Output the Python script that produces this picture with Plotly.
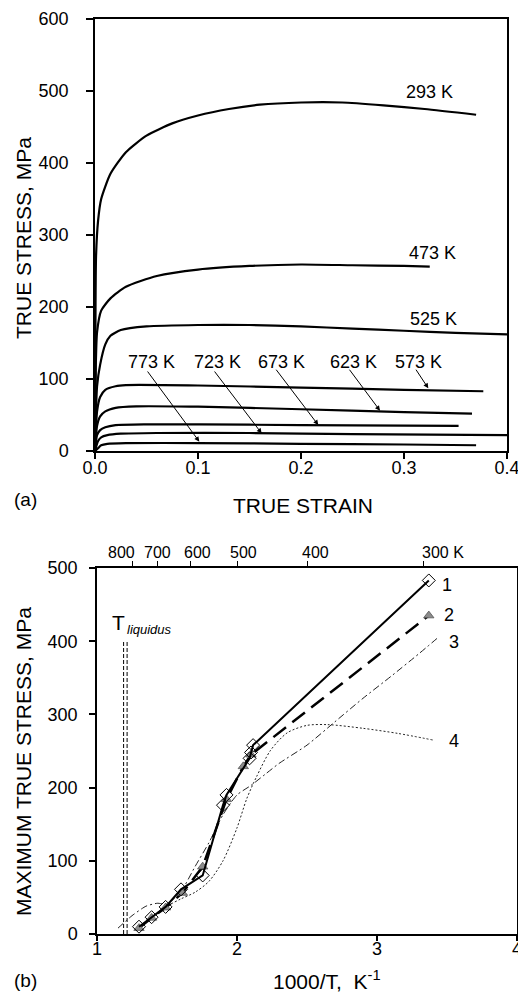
import plotly.graph_objects as go

# page body has an 8px default margin: the figure is sized/positioned to fit the 526x994 window
OFF = 8
WF, HF = 526 - OFF, 994 - OFF
FONT = "Arial, Liberation Sans, sans-serif"


def px_x(px):
    return (px - OFF) / WF


def px_y(py):
    return 1 - (py - OFF) / HF


# ---------------- panel (a): true stress vs true strain ----------------
strain_293 = [0, 0.0005, 0.001, 0.003, 0.006, 0.015, 0.03, 0.05, 0.075, 0.1, 0.13, 0.16, 0.2, 0.24, 0.28, 0.32, 0.37]
stress_293 = [0, 200, 270, 320, 350, 385, 415, 438, 455, 466, 475, 481, 484, 484, 480, 475, 467]

strain_473 = [0, 0.0008, 0.002, 0.006, 0.015, 0.03, 0.06, 0.1, 0.15, 0.2, 0.25, 0.3, 0.325]
stress_473 = [0, 120, 165, 195, 212, 228, 243, 252, 257, 259, 258, 257, 256]

strain_525 = [0, 0.002, 0.005, 0.01, 0.015, 0.025, 0.05, 0.1, 0.15, 0.2, 0.25, 0.3, 0.35, 0.4]
stress_525 = [0, 90, 120, 148, 160, 168, 173, 175, 175, 173, 170, 167, 164, 162]

strain_573 = [0, 0.002, 0.005, 0.01, 0.02, 0.03, 0.1, 0.2, 0.3, 0.377]
stress_573 = [0, 55, 75, 85, 90, 91.5, 91, 88, 85, 83]

strain_623 = [0, 0.002, 0.005, 0.01, 0.02, 0.04, 0.1, 0.2, 0.3, 0.366]
stress_623 = [0, 35, 48, 55, 60, 62, 61.5, 58, 54, 52]

strain_673 = [0, 0.002, 0.005, 0.01, 0.02, 0.05, 0.15, 0.25, 0.353]
stress_673 = [0, 22, 29, 33, 36, 37, 36.5, 35.5, 35]

strain_723 = [0, 0.003, 0.006, 0.012, 0.025, 0.06, 0.15, 0.25, 0.4]
stress_723 = [0, 14, 19, 22, 24, 25, 25, 23.5, 22]

strain_773 = [0, 0.003, 0.006, 0.012, 0.03, 0.1, 0.2, 0.3, 0.37]
stress_773 = [0, 4, 8, 10, 11, 11, 10, 9, 8]

curves_a = [
    (strain_293, stress_293), (strain_473, stress_473), (strain_525, stress_525),
    (strain_573, stress_573), (strain_623, stress_623), (strain_673, stress_673),
    (strain_723, stress_723), (strain_773, stress_773),
]

labels_a = ["293 K", "473 K", "525 K", "773 K", "723 K", "673 K", "623 K", "573 K"]
label_x_a = [0.325, 0.328, 0.3285, 0.055, 0.119, 0.1806, 0.2508, 0.314]
label_y_a = [499, 274.5, 184, 124, 124, 124, 124, 124]

# arrows (tail -> head) for the lower curves
arrow_tail_x = [0.050, 0.115, 0.1748, 0.246, 0.3107]
arrow_tail_y = [112.5, 112.5, 115, 115, 115]
arrow_head_x = [0.1013, 0.1618, 0.2168, 0.2767, 0.3236]
arrow_head_y = [13, 24.5, 36, 56, 87]

strain_ticks = [0, 0.1, 0.2, 0.3, 0.4]
strain_ticktext = ["0.0", "0.1", "0.2", "0.3", "0.4"]

# ---------------- panel (b): max true stress vs 1000/T ----------------
invT_1 = [1.30, 1.39, 1.49, 1.60, 1.755, 1.90, 1.925, 2.09, 2.10, 2.115, 3.37]
stress_1 = [10, 23, 37, 61, 80, 176, 190, 240, 248, 258, 483]

invT_2 = [1.30, 1.39, 1.49, 1.61, 1.755, 1.925, 2.045, 2.10, 3.37]
stress_2 = [8, 22, 36, 56, 92, 184, 229, 245, 435]

invT_3 = [1.15, 1.25, 1.35, 1.43, 1.50, 1.60, 1.70, 1.80, 1.90, 2.00, 2.10, 2.20, 2.30, 2.50, 2.70, 2.90, 3.10, 3.30, 3.43]
stress_3 = [8, 25, 38, 42, 41, 58, 92, 125, 163, 190, 203, 218, 233, 258, 290, 322, 352, 383, 404]

invT_4 = [1.28, 1.40, 1.50, 1.60, 1.70, 1.80, 1.90, 2.00, 2.07, 2.14, 2.24, 2.36, 2.50, 2.65, 2.90, 3.15, 3.40]
stress_4 = [5, 24, 38, 48, 57, 72, 100, 145, 185, 215, 251, 275, 285, 286, 281, 274, 265]

series_labels = ["1", "2", "3", "4"]
series_label_x = [3.45, 3.462, 3.498, 3.498]
series_label_y = [477, 436, 399, 263]

liquidus_x = [1.19, 1.215]
liquidus_y = [0, 400]

top_T = [800, 700, 600, 500, 400, 300]
top_T_text = ["800", "700", "600", "500", "400", "300 K"]
top_T_label_x = [1.174, 1.433, 1.718, 2.043, 2.564, 3.47]

invT_ticks = [1, 2, 3, 4]
stress_ticks_b = [0, 100, 200, 300, 400, 500]
stress_ticks_a = [0, 100, 200, 300, 400, 500, 600]

# ---------------- figure ----------------
fig = go.Figure()

for sx, sy in curves_a:
    fig.add_trace(go.Scatter(x=sx, y=sy, mode="lines", xaxis="x", yaxis="y",
                             line=dict(color="black", width=2.2, shape="spline", smoothing=0.6),
                             showlegend=False, hoverinfo="skip"))

# liquidus lines (on the top temperature axis, same 1000/T scale)
for lx in liquidus_x:
    fig.add_trace(go.Scatter(x=[lx, lx], y=liquidus_y, mode="lines", xaxis="x3", yaxis="y2",
                             line=dict(color="black", width=1, dash="4px,2px"),
                             showlegend=False, hoverinfo="skip"))

fig.add_trace(go.Scatter(x=invT_4, y=stress_4, mode="lines", xaxis="x2", yaxis="y2",
                         line=dict(color="#222", width=1, dash="2px,2px", shape="spline", smoothing=0.8),
                         showlegend=False))
fig.add_trace(go.Scatter(x=invT_3, y=stress_3, mode="lines", xaxis="x2", yaxis="y2",
                         line=dict(color="#222", width=1, dash="7px,3px,2px,3px", shape="spline", smoothing=0.6),
                         showlegend=False))
fig.add_trace(go.Scatter(x=invT_2, y=stress_2, mode="lines+markers", xaxis="x2", yaxis="y2",
                         line=dict(color="black", width=2.5, dash="16px,8px"),
                         marker=dict(symbol="triangle-up", size=9, color="#8c8c8c",
                                     line=dict(color="#555", width=0.8)),
                         showlegend=False))
fig.add_trace(go.Scatter(x=invT_1, y=stress_1, mode="lines+markers", xaxis="x2", yaxis="y2",
                         line=dict(color="black", width=2),
                         marker=dict(symbol="diamond-open", size=10, color="black",
                                     line=dict(color="black", width=1)),
                         showlegend=False))

axis_common = dict(showline=True, linecolor="black", linewidth=1.5, showgrid=False, zeroline=False,
                   ticks="outside", tickcolor="black", tickwidth=1.5, automargin=False,
                   tickfont=dict(family=FONT, size=18, color="black"))

fig.update_layout(
    width=WF, height=HF, autosize=False,
    margin=dict(l=0, r=0, t=0, b=0, pad=0, autoexpand=False),
    paper_bgcolor="white", plot_bgcolor="white",
    font=dict(family=FONT, color="black"),
    xaxis=dict(domain=[px_x(95), px_x(507)], anchor="y", range=[0, 0.4], mirror=True,
               tickvals=strain_ticks, ticktext=strain_ticktext, ticklen=6,
               ticklabelstandoff=-6, **axis_common),
    yaxis=dict(domain=[px_y(451), px_y(19)], anchor="x", range=[0, 600], mirror=True,
               tickvals=stress_ticks_a, ticklen=7, ticklabelstandoff=14, **axis_common),
    xaxis2=dict(domain=[px_x(97), px_x(517)], anchor="y2", range=[1, 4],
                tickvals=invT_ticks, ticklen=5, ticklabelstandoff=-7, **axis_common),
    yaxis2=dict(domain=[px_y(934), px_y(568)], anchor="x2", range=[0, 500], mirror=True,
                tickvals=stress_ticks_b, ticklen=6, ticklabelstandoff=8, **axis_common),
    xaxis3=dict(overlaying="x2", anchor="y2", side="top", range=[1, 4], automargin=False,
                tickvals=[1000 / t for t in top_T], showticklabels=False,
                showline=True, linecolor="black", linewidth=1.5, showgrid=False, zeroline=False,
                ticks="outside", ticklen=5, tickwidth=1, tickcolor="black"),
)

ann = []
for t, x, y in zip(labels_a, label_x_a, label_y_a):
    ann.append(dict(x=x, y=y, xref="x", yref="y", text=t, showarrow=False,
                    xanchor="center", yanchor="middle", font=dict(size=18, family=FONT)))
for tx, ty, hx, hy in zip(arrow_tail_x, arrow_tail_y, arrow_head_x, arrow_head_y):
    ann.append(dict(x=hx, y=hy, ax=tx, ay=ty, xref="x", yref="y", axref="x", ayref="y",
                    text="", showarrow=True, arrowhead=2, arrowsize=1, arrowwidth=1,
                    arrowcolor="black"))
for t, x, y in zip(series_labels, series_label_x, series_label_y):
    ann.append(dict(x=x, y=y, xref="x2", yref="y2", text=t, showarrow=False,
                    xanchor="left", yanchor="middle", font=dict(size=18, family=FONT)))
for t, x in zip(top_T_text, top_T_label_x):
    ann.append(dict(x=x, y=px_y(552), xref="x3", yref="paper", text=t, showarrow=False,
                    xanchor="center", yanchor="middle", font=dict(size=16, family=FONT)))

# T_liquidus label
ann.append(dict(x=1.157, y=425, xref="x2", yref="y2", text="T", showarrow=False,
                xanchor="center", yanchor="middle", font=dict(size=21, family=FONT)))
ann.append(dict(x=1.2, y=416, xref="x2", yref="y2", text="<i>liquidus</i>", showarrow=False,
                xanchor="left", yanchor="middle", font=dict(size=13, family=FONT)))

# axis titles and panel letters
titles = [
    ("TRUE STRESS, MPa", 24, 238, -90, 21),
    ("TRUE STRAIN", 303, 505, 0, 21),
    ("(a)", 25, 500, 0, 19),
    ("MAXIMUM TRUE STRESS, MPa", 23, 762, -90, 21),
    ("1000/T,  K<sup>-1</sup>", 327, 980, 0, 21),
    ("(b)", 25, 980, 0, 19),
]
for t, x, y, ang, fs in titles:
    ann.append(dict(x=px_x(x), y=px_y(y), xref="paper", yref="paper", text=t, textangle=ang,
                    showarrow=False, xanchor="center", yanchor="middle",
                    font=dict(size=fs, family=FONT)))
fig.update_layout(annotations=ann)

fig.write_html("out.html")
